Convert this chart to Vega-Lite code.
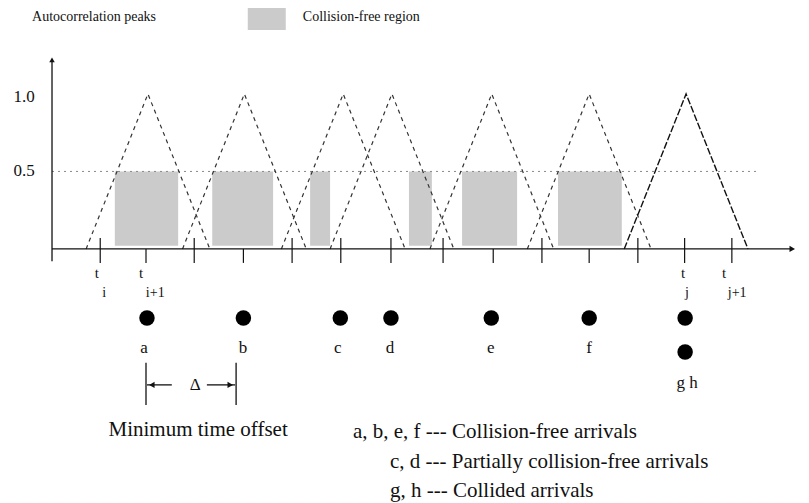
{
  "$schema": "https://vega.github.io/schema/vega-lite/v6.json",
  "width": 809,
  "height": 503,
  "padding": 0,
  "autosize": "none",
  "background": "white",
  "config": {"view": {"stroke": null}, "text": {"font": "Liberation Serif", "color": "#111"}},
  "datasets": {
    "tri": [
      {"tri": "a", "x": 0.70, "y": 0}, {"tri": "a", "x": 1.97, "y": 1}, {"tri": "a", "x": 3.24, "y": 0},
      {"tri": "b", "x": 2.68, "y": 0}, {"tri": "b", "x": 3.95, "y": 1}, {"tri": "b", "x": 5.22, "y": 0},
      {"tri": "c", "x": 4.71, "y": 0}, {"tri": "c", "x": 5.98, "y": 1}, {"tri": "c", "x": 7.25, "y": 0},
      {"tri": "d", "x": 5.71, "y": 0}, {"tri": "d", "x": 6.98, "y": 1}, {"tri": "d", "x": 8.25, "y": 0},
      {"tri": "e", "x": 7.76, "y": 0}, {"tri": "e", "x": 9.03, "y": 1}, {"tri": "e", "x": 10.30, "y": 0},
      {"tri": "f", "x": 9.76, "y": 0}, {"tri": "f", "x": 11.03, "y": 1}, {"tri": "f", "x": 12.30, "y": 0}
    ],
    "trig": [
      {"tri": "g", "x": 11.75, "y": 0}, {"tri": "g", "x": 13.02, "y": 1}, {"tri": "g", "x": 14.29, "y": 0}
    ],
    "regions": [
      {"x": 1.29, "x2": 2.59, "y": 0.02, "y2": 0.5},
      {"x": 3.29, "x2": 4.54, "y": 0.02, "y2": 0.5},
      {"x": 5.30, "x2": 5.71, "y": 0.02, "y2": 0.5},
      {"x": 7.33, "x2": 7.80, "y": 0.02, "y2": 0.5},
      {"x": 8.42, "x2": 9.55, "y": 0.02, "y2": 0.5},
      {"x": 10.39, "x2": 11.70, "y": 0.02, "y2": 0.5},
      {"x": 4.02, "x2": 4.80, "y": 1.413, "y2": 1.555}
    ],
    "ticks": [
      {"x": 0.99, "y": -0.09, "y2": 0.07}, {"x": 1.93, "y": -0.09, "y2": 0},
      {"x": 2.92, "y": -0.09, "y2": 0.07}, {"x": 3.93, "y": -0.09, "y2": 0},
      {"x": 4.93, "y": -0.09, "y2": 0.07}, {"x": 5.93, "y": -0.09, "y2": 0.07},
      {"x": 6.96, "y": -0.09, "y2": 0.07}, {"x": 8.03, "y": -0.09, "y2": 0.07},
      {"x": 9.06, "y": -0.09, "y2": 0}, {"x": 10.06, "y": -0.09, "y2": 0.07},
      {"x": 11.03, "y": -0.09, "y2": 0}, {"x": 12.03, "y": -0.09, "y2": 0.07},
      {"x": 12.99, "y": -0.09, "y2": 0.07}, {"x": 13.96, "y": -0.09, "y2": 0.07}
    ],
    "axes": [
      {"x": 0, "x2": 15.2, "y": 0, "y2": 0},
      {"x": 0, "x2": 0, "y": -0.08, "y2": 1.22},
      {"x": 1.93, "x2": 1.93, "y": -0.735, "y2": -1.006},
      {"x": 3.78, "x2": 3.78, "y": -0.735, "y2": -1.006},
      {"x": 1.95, "x2": 2.46, "y": -0.877, "y2": -0.877},
      {"x": 3.18, "x2": 3.76, "y": -0.877, "y2": -0.877}
    ],
    "arrowsRight": [{"x": 15.2, "y": 0}, {"x": 3.66, "y": -0.877}],
    "arrowsLeft": [{"x": 2.05, "y": -0.877}],
    "arrowsUp": [{"x": 0, "y": 1.22}],
    "half": [{"x": 0, "y": 0.5}, {"x": 14.5, "y": 0.5}],
    "dots": [
      {"x": 1.95, "y": -0.445}, {"x": 3.93, "y": -0.445}, {"x": 5.92, "y": -0.445},
      {"x": 6.96, "y": -0.445}, {"x": 9.02, "y": -0.445}, {"x": 11.03, "y": -0.445},
      {"x": 13.0, "y": -0.445}, {"x": 13.0, "y": -0.665}
    ],
    "labelsMid": [
      {"x": 1.89, "y": -0.639, "t": "a"}, {"x": 3.92, "y": -0.639, "t": "b"},
      {"x": 5.87, "y": -0.639, "t": "c"}, {"x": 6.94, "y": -0.639, "t": "d"},
      {"x": 9.01, "y": -0.639, "t": "e"}, {"x": 11.03, "y": -0.639, "t": "f"},
      {"x": 13.04, "y": -0.865, "t": "g h"},
      {"x": 2.94, "y": -0.877, "t": "Δ"},
      {"x": -0.575, "y": 0.98, "t": "1.0"}, {"x": -0.575, "y": 0.503, "t": "0.5"}
    ],
    "tickT": [
      {"x": 0.92, "y": -0.155, "t": "t"}, {"x": 1.83, "y": -0.155, "t": "t"},
      {"x": 12.96, "y": -0.155, "t": "t"}, {"x": 13.80, "y": -0.155, "t": "t"}
    ],
    "tickSub": [
      {"x": 1.07, "y": -0.284, "t": "i"}, {"x": 2.12, "y": -0.284, "t": "i+1"},
      {"x": 13.04, "y": -0.284, "t": "j"}, {"x": 14.07, "y": -0.284, "t": "j+1"}
    ],
    "topText": [
      {"x": -0.41, "y": 1.497, "t": "Autocorrelation  peaks"},
      {"x": 5.15, "y": 1.497, "t": "Collision-free  region"}
    ],
    "bottomCenter": [
      {"x": 3.0, "y": -1.168, "t": "Minimum time offset"}
    ],
    "bottomLeft": [
      {"x": 6.18, "y": -1.181, "t": "a, b, e, f --- Collision-free arrivals"},
      {"x": 6.94, "y": -1.374, "t": "c, d --- Partially collision-free arrivals"},
      {"x": 6.94, "y": -1.561, "t": "g, h --- Collided arrivals"}
    ]
  },
  "encoding": {
    "x": {"field": "x", "type": "quantitative", "scale": {"domain": [-1.068, 15.544], "nice": false, "zero": false}, "axis": null},
    "y": {"field": "y", "type": "quantitative", "scale": {"domain": [-1.639, 1.606], "nice": false, "zero": false}, "axis": null}
  },
  "layer": [
    {"data": {"name": "regions"}, "mark": {"type": "rect", "fill": "#a8a8a8", "opacity": 0.6},
     "encoding": {"x2": {"field": "x2"}, "y2": {"field": "y2"}}},
    {"data": {"name": "half"}, "mark": {"type": "line", "stroke": "#888", "strokeWidth": 1, "strokeDash": [2, 4]}, "encoding": {}},
    {"data": {"name": "tri"}, "mark": {"type": "line", "stroke": "#333", "strokeWidth": 1.2, "strokeDash": [4, 4]},
     "encoding": {"detail": {"field": "tri"}}},
    {"data": {"name": "trig"}, "mark": {"type": "line", "stroke": "#111", "strokeWidth": 1.4, "strokeDash": [7, 2]},
     "encoding": {"detail": {"field": "tri"}}},
    {"data": {"name": "axes"}, "mark": {"type": "rule", "stroke": "#111", "strokeWidth": 1.3},
     "encoding": {"x2": {"field": "x2"}, "y2": {"field": "y2"}}},
    {"data": {"name": "ticks"}, "mark": {"type": "rule", "stroke": "#111", "strokeWidth": 1.2},
     "encoding": {"y2": {"field": "y2"}}},
    {"data": {"name": "arrowsRight"}, "mark": {"type": "point", "shape": "triangle-right", "filled": true, "color": "#111", "size": 40, "opacity": 1}},
    {"data": {"name": "arrowsLeft"}, "mark": {"type": "point", "shape": "triangle-left", "filled": true, "color": "#111", "size": 40, "opacity": 1}},
    {"data": {"name": "arrowsUp"}, "mark": {"type": "point", "shape": "triangle-up", "filled": true, "color": "#111", "size": 30, "opacity": 1}},
    {"data": {"name": "dots"}, "mark": {"type": "circle", "color": "#000", "size": 240, "opacity": 1}},
    {"data": {"name": "labelsMid"}, "mark": {"type": "text", "fontSize": 17, "align": "center", "baseline": "middle"},
     "encoding": {"text": {"field": "t"}}},
    {"data": {"name": "tickT"}, "mark": {"type": "text", "fontSize": 15, "align": "center", "baseline": "middle"},
     "encoding": {"text": {"field": "t"}}},
    {"data": {"name": "tickSub"}, "mark": {"type": "text", "fontSize": 14, "align": "center", "baseline": "middle"},
     "encoding": {"text": {"field": "t"}}},
    {"data": {"name": "topText"}, "mark": {"type": "text", "fontSize": 14, "align": "left", "baseline": "middle"},
     "encoding": {"text": {"field": "t"}}},
    {"data": {"name": "bottomCenter"}, "mark": {"type": "text", "fontSize": 21, "align": "center", "baseline": "middle"},
     "encoding": {"text": {"field": "t"}}},
    {"data": {"name": "bottomLeft"}, "mark": {"type": "text", "fontSize": 21, "align": "left", "baseline": "middle"},
     "encoding": {"text": {"field": "t"}}}
  ]
}
